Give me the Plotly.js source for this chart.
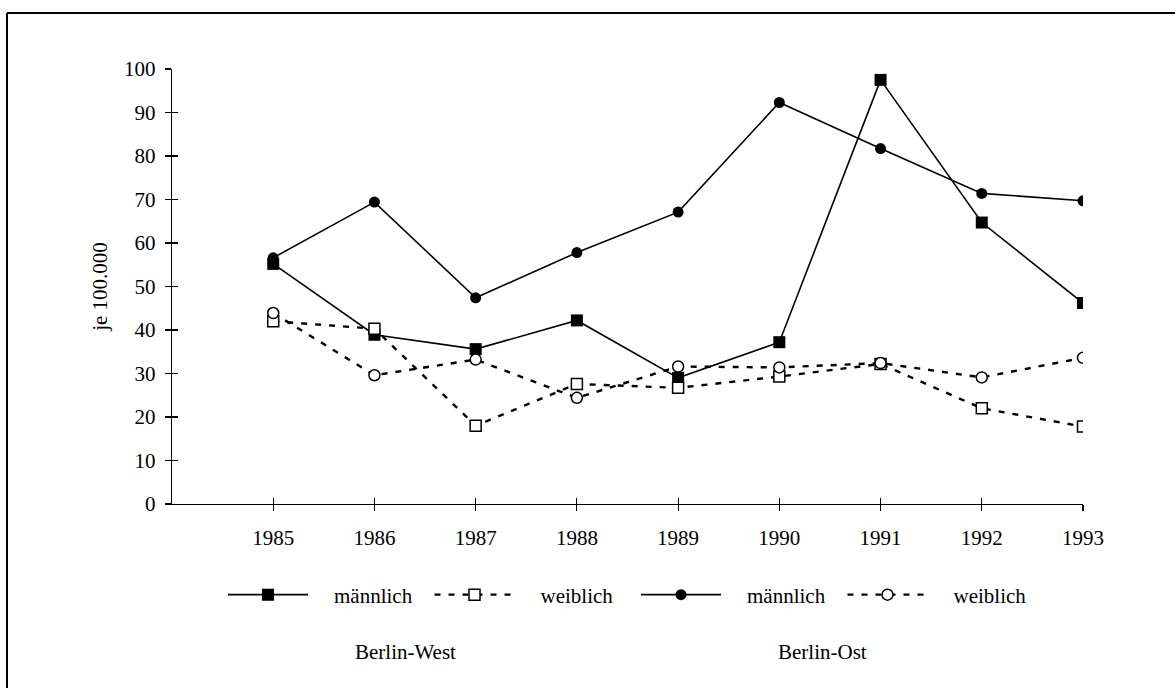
<!DOCTYPE html>
<html>
<head>
<meta charset="utf-8">
<script src="https://cdn.plot.ly/plotly-3.0.1.min.js"></script>
<style>html,body{margin:0;padding:0;background:#fff;}#chart{width:1175px;height:688px;}</style>
</head>
<body>
<div id="chart"></div>
<script>
const years = [1985, 1986, 1987, 1988, 1989, 1990, 1991, 1992, 1993];
const westMaennlich = [55.2, 38.9, 35.6, 42.2, 29.0, 37.2, 97.5, 64.7, 46.2];
const westWeiblich = [42.0, 40.3, 18.0, 27.6, 26.7, 29.3, 32.2, 22.0, 17.8];
const ostMaennlich = [56.6, 69.4, 47.4, 57.8, 67.1, 92.3, 81.7, 71.4, 69.7];
const ostWeiblich = [43.9, 29.6, 33.2, 24.4, 31.6, 31.4, 32.4, 29.1, 33.6];
const seriesNames = ['männlich', 'weiblich', 'männlich', 'weiblich'];
const groupLabels = ['Berlin-West', 'Berlin-Ost'];
const yTitle = 'je 100.000';
const yTicks = [0, 10, 20, 30, 40, 50, 60, 70, 80, 90, 100];

const FONT = 'Liberation Serif, Times New Roman, serif';
const FS = 21;
const L = 172, R = 1083, T = 69, B = 504;
const W = R - L, H = B - T;
const px = v => (v - L) / W;
const py = v => (B - v) / H;
const pad = '\u00a0\u00a0\u00a0\u00a0';

const traces = [
  {x: years, y: westMaennlich, name: pad + seriesNames[0], type: 'scatter', mode: 'lines+markers',
   line: {color: '#000', width: 1.6}, marker: {symbol: 'square', size: 12, color: '#000'}},
  {x: years, y: westWeiblich, name: pad + seriesNames[1], type: 'scatter', mode: 'lines+markers',
   line: {color: '#000', width: 2.4, dash: '6px,8px'},
   marker: {symbol: 'square', size: 11, color: '#fff', line: {color: '#000', width: 1.5}}},
  {x: years, y: ostMaennlich, name: pad + seriesNames[2], type: 'scatter', mode: 'lines+markers',
   line: {color: '#000', width: 1.6}, marker: {symbol: 'circle', size: 11, color: '#000'}},
  {x: years, y: ostWeiblich, name: pad + seriesNames[3], type: 'scatter', mode: 'lines+markers',
   line: {color: '#000', width: 2.4, dash: '6px,8px'},
   marker: {symbol: 'circle', size: 11, color: '#fff', line: {color: '#000', width: 1.5}}},
  // invisible helper trace so the overlay axes (inner half of the crossing ticks) are drawn
  {x: years, y: westMaennlich, xaxis: 'x2', yaxis: 'y2', type: 'scatter', mode: 'none',
   showlegend: false, hoverinfo: 'skip'}
];

const layout = {
  width: 1175, height: 688,
  margin: {l: L, r: 1175 - R, t: T, b: 688 - B},
  paper_bgcolor: '#fff', plot_bgcolor: 'rgba(0,0,0,0)',
  font: {family: FONT, color: '#000', size: FS},
  showlegend: true,
  legend: {
    orientation: 'h', x: px(223), y: py(595), xanchor: 'left', yanchor: 'middle',
    itemwidth: 80, entrywidth: 111.5, entrywidthmode: 'pixels',
    font: {family: FONT, size: FS, color: '#000'}, bgcolor: 'rgba(0,0,0,0)',
    traceorder: 'normal', itemclick: false
  },
  xaxis: {
    range: [1984, 1993], tickvals: years, ticktext: years.map(String),
    showgrid: false, zeroline: false, showline: true, linecolor: '#000', linewidth: 1.2,
    ticks: 'outside', ticklen: 6, tickwidth: 1.2, tickcolor: '#000',
    ticklabelstandoff: 9,
    tickfont: {family: FONT, size: FS, color: '#000'}, fixedrange: true
  },
  xaxis2: {
    overlaying: 'x', anchor: 'y2', range: [1984, 1993], tickvals: years,
    showticklabels: false, showgrid: false, zeroline: false, showline: false,
    ticks: 'inside', ticklen: 6, tickwidth: 1.2, tickcolor: '#000', fixedrange: true
  },
  yaxis: {
    range: [0, 100], tickvals: yTicks,
    showgrid: false, zeroline: false, showline: true, linecolor: '#000', linewidth: 1.4,
    ticks: 'outside', ticklen: 6, tickwidth: 1.2, tickcolor: '#000',
    ticklabelstandoff: 5,
    tickfont: {family: FONT, size: FS, color: '#000'},
    title: {text: yTitle, font: {family: FONT, size: FS, color: '#000'}, standoff: 10},
    fixedrange: true
  },
  yaxis2: {
    overlaying: 'y', anchor: 'x2', range: [0, 100], tickvals: yTicks,
    showticklabels: false, showgrid: false, zeroline: false, showline: false,
    ticks: 'inside', ticklen: 6, tickwidth: 1.2, tickcolor: '#000', fixedrange: true
  },
  annotations: [
    {text: groupLabels[0], xref: 'paper', yref: 'paper', x: px(405), y: py(652), showarrow: false,
     xanchor: 'center', yanchor: 'middle', font: {family: FONT, size: FS, color: '#000'}},
    {text: groupLabels[1], xref: 'paper', yref: 'paper', x: px(822), y: py(652), showarrow: false,
     xanchor: 'center', yanchor: 'middle', font: {family: FONT, size: FS, color: '#000'}}
  ],
  shapes: [
    {type: 'line', xref: 'paper', yref: 'paper', x0: px(7), x1: px(7), y0: py(13), y1: py(688),
     line: {color: '#000', width: 2}},
    {type: 'line', xref: 'paper', yref: 'paper', x0: px(7), x1: px(1175), y0: py(13), y1: py(13),
     line: {color: '#000', width: 2}}
  ]
};

Plotly.newPlot('chart', traces, layout, {displayModeBar: false, staticPlot: true});
</script>
</body>
</html>
